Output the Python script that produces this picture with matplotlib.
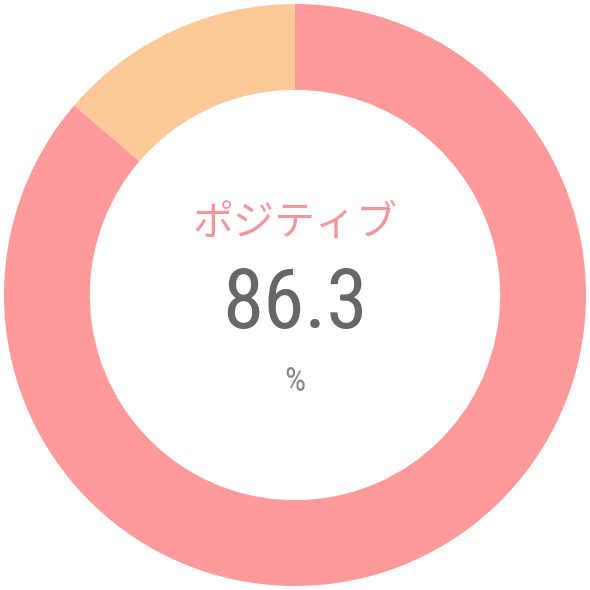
import matplotlib.pyplot as plt

# データ
labels = ['ポジティブ', 'ネガティブ']
values = [86.3, 13.7]
colors = ['#FE9A9C', '#FDC998']
center_label = 'ポジティブ'
center_value = '86.3'
unit = '%'

num_fonts = ['Roboto Condensed', 'Open Sans Condensed', 'Liberation Sans Narrow',
             'DejaVu Sans']

fig = plt.figure(figsize=(5.9, 5.9), dpi=100)
ax = fig.add_axes([0, 0, 1, 1])
ax.pie(values, colors=colors, startangle=90, counterclock=False,
       radius=1.0, wedgeprops=dict(width=0.295, edgecolor='none'))
ax.set_xlim(-1.0137, 1.0137)
ax.set_ylim(-1.0137, 1.0137)
ax.set_aspect('equal')
ax.axis('off')

ax.text(0, 0.245, center_label, ha='center', va='center', fontsize=29.5,
        color='#F0989B', family=['Noto Sans CJK JP', 'DejaVu Sans'])
ax.text(0, -0.035, center_value, ha='center', va='center', fontsize=60,
        color='#676767', stretch='condensed', family=num_fonts)
ax.text(0, -0.30, unit, ha='center', va='center', fontsize=24,
        color='#8A8A8A', stretch='condensed', family=num_fonts)

fig.savefig('out.png', dpi=100, facecolor='white')
